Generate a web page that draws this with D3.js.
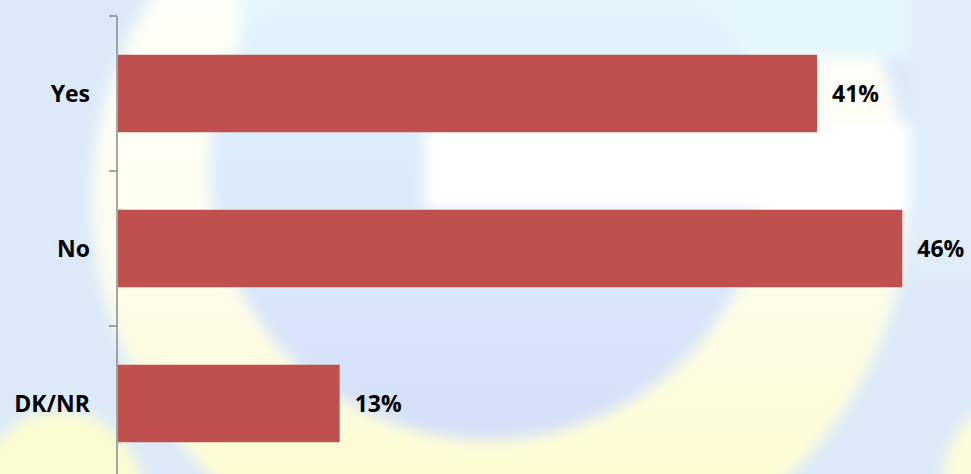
<!DOCTYPE html>
<html>
<head>
<meta charset="utf-8">
<script src="https://cdn.jsdelivr.net/npm/d3@7"></script>
<style>
  html, body { margin: 0; padding: 0; background: #fff; overflow: hidden; }
  svg { display: block; }
</style>
</head>
<body>
<div id="chart"></div>
<script>
const categories = ["Yes", "No", "DK/NR"];
const values = [41, 46, 13];

(() => {
    const width = 971, height = 474;
    const margin = { top: 16, left: 117 };

    const svg = d3.select("#chart")
        .append("svg")
        .attr("width", width)
        .attr("height", height);

    // blurred logo in the background (approximate)
    const defs = svg.append("defs");
    defs.append("filter").attr("id", "blur")
        .attr("x", "-20%").attr("y", "-20%").attr("width", "140%").attr("height", "140%")
        .append("feGaussianBlur").attr("stdDeviation", 7);

    const g1 = defs.append("linearGradient").attr("id", "disk")
        .attr("x1", 0).attr("y1", 0).attr("x2", 0).attr("y2", 1);
    g1.append("stop").attr("offset", "0%").attr("stop-color", "#e8fafd");
    g1.append("stop").attr("offset", "45%").attr("stop-color", "#dcecfa");
    g1.append("stop").attr("offset", "100%").attr("stop-color", "#d5dff8");

    const g2 = defs.append("linearGradient").attr("id", "ring")
        .attr("x1", 0).attr("y1", 0).attr("x2", 0).attr("y2", 1);
    g2.append("stop").attr("offset", "0%").attr("stop-color", "#ffffff");
    g2.append("stop").attr("offset", "55%").attr("stop-color", "#fdfdf0");
    g2.append("stop").attr("offset", "100%").attr("stop-color", "#fdfcc4");

    const bg = svg.append("g").attr("filter", "url(#blur)");
    bg.append("rect").attr("x", -20).attr("y", -20).attr("width", width + 40).attr("height", height + 40)
        .attr("fill", "#dbe9f8");
    bg.append("ellipse").attr("cx", 60).attr("cy", 520).attr("rx", 90).attr("ry", 110)
        .attr("fill", "#fbfbd2");
    bg.append("ellipse").attr("cx", 990).attr("cy", 500).attr("rx", 50).attr("ry", 90)
        .attr("fill", "#fbfbd8");
    bg.append("ellipse").attr("cx", 500).attr("cy", 200).attr("rx", 408).attr("ry", 390)
        .attr("fill", "url(#ring)");
    bg.append("rect").attr("x", 240).attr("y", -20).attr("width", 760).attr("height", 78)
        .attr("fill", "#e4f7fc");
    bg.append("rect").attr("x", 910).attr("y", -20).attr("width", 90).attr("height", 300)
        .attr("fill", "#dfedf9");
    bg.append("ellipse").attr("cx", 488).attr("cy", 165).attr("rx", 278).attr("ry", 275)
        .attr("fill", "url(#disk)");
    bg.append("rect").attr("x", 425).attr("y", 122).attr("width", 485).attr("height", 88)
        .attr("fill", "#ffffff");

    const x = d3.scaleLinear()
        .domain([0, 50])
        .range([margin.left + 1, margin.left + 1 + 852.5]);

    const y = d3.scaleBand()
        .domain(categories)
        .range([margin.top, margin.top + 465])
        .paddingInner(0.5)
        .paddingOuter(0.25);

    const data = categories.map((c, i) => ({ cat: c, val: values[i] }));

    svg.selectAll(".bar")
        .data(data)
        .enter()
        .append("rect")
        .attr("class", "bar")
        .attr("x", x(0))
        .attr("y", d => y(d.cat))
        .attr("width", d => x(d.val) - x(0))
        .attr("height", y.bandwidth())
        .attr("fill", "#c0504d");

    // category axis: labels at band centres, ticks at band boundaries
    const axis = svg.append("g")
        .attr("transform", `translate(${margin.left},0)`)
        .call(d3.axisLeft(y).tickSize(0).tickPadding(27));
    axis.select(".domain").remove();
    axis.selectAll("text")
        .attr("dy", "0.36em")
        .style("font-family", "'Open Sans', sans-serif")
        .style("font-weight", "bold")
        .style("font-size", "23px")
        .style("fill", "#000");

    const r0 = y.range()[0];
    const bounds = d3.range(categories.length + 1).map(i => r0 + i * y.step());

    svg.append("line")
        .attr("x1", margin.left).attr("x2", margin.left)
        .attr("y1", bounds[0]).attr("y2", bounds[bounds.length - 1])
        .attr("stroke", "#8a8a8a")
        .attr("stroke-width", 1.5);

    svg.selectAll(".tick-mark")
        .data(bounds)
        .enter()
        .append("line")
        .attr("class", "tick-mark")
        .attr("x1", margin.left - 8).attr("x2", margin.left)
        .attr("y1", d => d).attr("y2", d => d)
        .attr("stroke", "#8a8a8a")
        .attr("stroke-width", 1.5);

    svg.selectAll(".label")
        .data(data)
        .enter()
        .append("text")
        .attr("class", "label")
        .attr("x", d => x(d.val) + 15)
        .attr("y", d => y(d.cat) + y.bandwidth() / 2)
        .attr("dy", "0.36em")
        .text(d => `${d.val}%`)
        .style("font-family", "'Open Sans', sans-serif")
        .style("font-weight", "bold")
        .style("font-size", "23px")
        .style("fill", "#000");
})();
</script>
</body>
</html>
